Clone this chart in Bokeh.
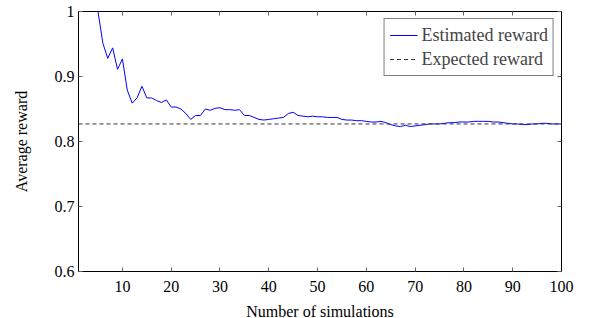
from bokeh.plotting import figure
from bokeh.models import LinearAxis, FixedTicker, Legend, LegendItem, Range1d
from bokeh.embed import file_html
from bokeh.resources import INLINE

simulations = list(range(1, 101))
estimated_reward = [
    1.0, 1.0, 1.0, 1.0, 1.0, 0.951, 0.928, 0.944, 0.911, 0.927,
    0.879, 0.859, 0.867, 0.885, 0.867, 0.867, 0.863, 0.860, 0.864, 0.853,
    0.853, 0.850, 0.843, 0.834, 0.840, 0.840, 0.850, 0.848, 0.851, 0.852,
    0.849, 0.849, 0.848, 0.849, 0.840, 0.840, 0.837, 0.834, 0.833, 0.834,
    0.835, 0.836, 0.837, 0.843, 0.845, 0.840, 0.839, 0.838, 0.839, 0.838,
    0.838, 0.837, 0.837, 0.837, 0.834, 0.833, 0.833, 0.832, 0.832, 0.831,
    0.830, 0.830, 0.831, 0.829, 0.826, 0.824, 0.823, 0.825, 0.823, 0.824,
    0.825, 0.826, 0.827, 0.827, 0.827, 0.828, 0.829, 0.829, 0.830, 0.830,
    0.830, 0.831, 0.831, 0.831, 0.831, 0.830, 0.830, 0.829, 0.828, 0.827,
    0.827, 0.826, 0.826, 0.827, 0.827, 0.828, 0.828, 0.827, 0.827, 0.827,
]
expected_reward = 0.827
x_ticks = [10, 20, 30, 40, 50, 60, 70, 80, 90, 100]
y_ticks = [0.6, 0.7, 0.8, 0.9, 1.0]
y_tick_labels = {0.6: "0.6", 0.7: "0.7", 0.8: "0.8", 0.9: "0.9", 1.0: "1"}

FONT = "Liberation Serif"

p = figure(frame_width=483, frame_height=260, output_backend="svg",
           toolbar_location=None, x_range=Range1d(1, 100), y_range=Range1d(0.6, 1.0),
           min_border_left=78, min_border_top=11, min_border_right=20, min_border_bottom=0)
p.xgrid.visible = False
p.ygrid.visible = False
p.outline_line_color = "black"
p.outline_line_width = 1

l1 = p.line(simulations, estimated_reward, line_color="blue", line_width=1)
l2 = p.line([simulations[0], simulations[-1]], [expected_reward, expected_reward],
            line_color="#333333", line_width=1, line_dash="4 3")

xb = p.xaxis[0]
yl = p.yaxis[0]
xb.ticker = FixedTicker(ticks=x_ticks)
xb.axis_label = "Number of simulations"
yl.ticker = FixedTicker(ticks=y_ticks)
yl.major_label_overrides = y_tick_labels
yl.axis_label = "Average reward"

top = LinearAxis(ticker=FixedTicker(ticks=x_ticks),
                 major_label_overrides={t: "" for t in x_ticks},
                 major_label_standoff=0)
right = LinearAxis(ticker=FixedTicker(ticks=y_ticks),
                   major_label_overrides={t: "" for t in y_ticks},
                   major_label_standoff=0)
p.add_layout(top, "above")
p.add_layout(right, "right")

for ax in [xb, yl, top, right]:
    ax.major_tick_in = 4
    ax.major_tick_out = 0
    ax.minor_tick_line_color = None
    ax.major_tick_line_color = "#666666"
    ax.axis_line_color = "black"

for ax in [xb, yl]:
    ax.major_label_text_font = FONT
    ax.major_label_text_font_size = "16px"
    ax.major_label_text_color = "black"
    ax.axis_label_text_font = FONT
    ax.axis_label_text_font_size = "16px"
    ax.axis_label_text_font_style = "normal"
    ax.axis_label_text_color = "black"

xb.major_label_standoff = 9
yl.major_label_standoff = 4
xb.axis_label_standoff = 8
yl.axis_label_standoff = 22

legend = Legend(items=[LegendItem(label="Estimated reward", renderers=[l1]),
                       LegendItem(label="Expected reward", renderers=[l2])],
                location="top_right")
legend.label_text_font = FONT
legend.label_text_font_size = "18px"
legend.border_line_color = "black"
legend.border_line_width = 1
legend.margin = 7
legend.padding = 5
legend.spacing = 2
legend.glyph_width = 28
legend.glyph_height = 22
legend.label_standoff = 4
legend.label_height = 22
p.add_layout(legend)

open("out.html", "w").write(file_html(p, INLINE))
